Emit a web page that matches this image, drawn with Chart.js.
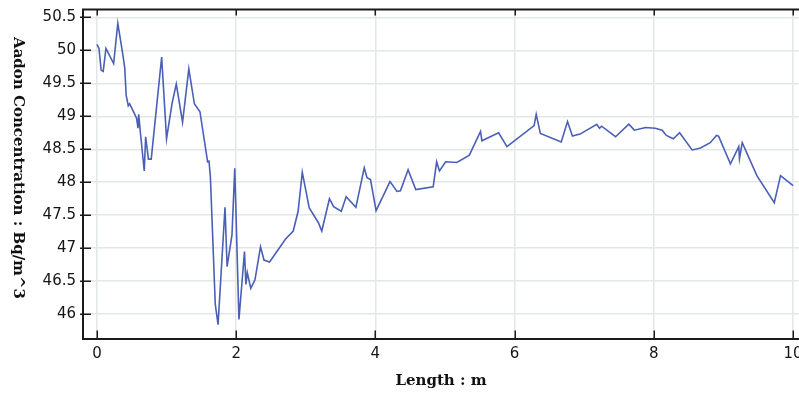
<!DOCTYPE html>
<html>
<head>
<meta charset="utf-8">
<script src="https://cdn.jsdelivr.net/npm/chart.js@4/dist/chart.umd.min.js"></script>
<style>
  html, body { margin: 0; padding: 0; background: #fff; width: 799px; height: 396px; overflow: hidden; }
  #wrap { position: relative; width: 807px; height: 396px; }
</style>
</head>
<body>
<div id="wrap"><canvas id="c"></canvas></div>
<script>
// Distance along the profile (m)
const lengthM = [
  0.00, 0.03, 0.06, 0.09, 0.13, 0.24, 0.30, 0.37, 0.40, 0.42,
  0.45, 0.47, 0.53, 0.57, 0.59, 0.60, 0.62, 0.68, 0.70, 0.74,
  0.78, 0.93, 1.00, 1.08, 1.14, 1.23, 1.32, 1.40, 1.48, 1.59,
  1.61, 1.63, 1.70, 1.74, 1.84, 1.87, 1.94, 1.98, 2.04, 2.12,
  2.14, 2.16, 2.21, 2.27, 2.35, 2.40, 2.48, 2.71, 2.82, 2.89,
  2.95, 3.05, 3.18, 3.23, 3.34, 3.40, 3.51, 3.58, 3.72, 3.84,
  3.88, 3.93, 4.01, 4.21, 4.31, 4.36, 4.47, 4.58, 4.83, 4.88,
  4.92, 5.01, 5.17, 5.35, 5.51, 5.53, 5.77, 5.89, 6.28, 6.31,
  6.37, 6.67, 6.76, 6.83, 6.94, 7.18, 7.22, 7.25, 7.45, 7.64,
  7.72, 7.88, 8.02, 8.12, 8.18, 8.28, 8.37, 8.55, 8.67, 8.81,
  8.90, 8.93, 9.10, 9.22, 9.23, 9.27, 9.48, 9.73, 9.82, 10.00
];

// Radon concentration (Bq/m^3)
const radon = [
  50.09, 50.03, 49.70, 49.68, 50.03, 49.80, 50.41, 49.95, 49.73, 49.32,
  49.16, 49.19, 49.06, 48.97, 48.82, 49.03, 48.80, 48.17, 48.69, 48.35,
  48.35, 49.90, 48.66, 49.20, 49.49, 48.91, 49.72, 49.19, 49.07, 48.31,
  48.32, 48.08, 46.15, 45.84, 47.62, 46.72, 47.20, 48.21, 45.92, 46.95,
  46.45, 46.63, 46.39, 46.52, 47.02, 46.82, 46.79, 47.14, 47.26, 47.56,
  48.15, 47.61, 47.39, 47.26, 47.75, 47.63, 47.56, 47.78, 47.62, 48.22,
  48.07, 48.04, 47.57, 48.01, 47.86, 47.87, 48.19, 47.89, 47.93, 48.31,
  48.17, 48.31, 48.30, 48.41, 48.77, 48.63, 48.75, 48.54, 48.86, 49.03,
  48.74, 48.61, 48.92, 48.70, 48.73, 48.88, 48.82, 48.85, 48.69, 48.88,
  48.79, 48.83, 48.82, 48.79, 48.71, 48.66, 48.75, 48.49, 48.52, 48.60,
  48.71, 48.70, 48.28, 48.54, 48.36, 48.60, 48.10, 47.69, 48.10, 47.95
];

const xTickValues = [0, 2, 4, 6, 8, 10];
const yTickValues = [46, 46.5, 47, 47.5, 48, 48.5, 49, 49.5, 50, 50.5];

const xTitle = 'Length : m';
const yTitle = 'Aadon Concentration : Bq/m^3';

const AXIS = '#1b1b1b';
const GRID = '#e4e7e8';
const LINE = '#4a5fb6';
const TITLE_FONT = 'bold 15px "DejaVu Serif"';

// Frame, inward tick marks and axis titles
const framePlugin = {
  id: 'frame',
  afterDraw(chart) {
    const { ctx, chartArea: a, scales } = chart;
    ctx.save();
    ctx.strokeStyle = AXIS;
    ctx.lineWidth = 2;
    ctx.beginPath();
    ctx.moveTo(a.left - 1, a.top);
    ctx.lineTo(a.right, a.top);
    ctx.stroke();

    ctx.lineWidth = 1.5;
    ctx.beginPath();
    xTickValues.forEach(v => {
      const px = Math.round(scales.x.getPixelForValue(v)) + 0.25;
      ctx.moveTo(px, a.bottom);
      ctx.lineTo(px, a.bottom - 8);
      ctx.moveTo(px, a.top);
      ctx.lineTo(px, a.top + 6);
    });
    yTickValues.forEach(v => {
      const py = Math.round(scales.y.getPixelForValue(v)) + 0.25;
      ctx.moveTo(a.left - 3, py);
      ctx.lineTo(a.left + 8, py);
    });
    ctx.stroke();

    ctx.fillStyle = '#111';
    ctx.font = TITLE_FONT;
    ctx.textAlign = 'center';
    ctx.textBaseline = 'middle';
    ctx.fillText(xTitle, 441, 381);

    ctx.translate(18, 168);
    ctx.rotate(Math.PI / 2);
    ctx.fillText(yTitle, 0, 0);
    ctx.restore();
  }
};

new Chart(document.getElementById('c'), {
  type: 'line',
  data: {
    datasets: [{
      data: lengthM.map((x, i) => ({ x, y: radon[i] })),
      borderColor: LINE,
      borderWidth: 1.6,
      pointRadius: 0,
      tension: 0,
      fill: false
    }]
  },
  options: {
    responsive: true,
    maintainAspectRatio: false,
    animation: false,
    layout: { padding: { top: 9.5, left: 0, right: 0, bottom: 0 } },
    plugins: { legend: { display: false }, tooltip: { enabled: false } },
    scales: {
      x: {
        type: 'linear',
        min: -0.2,
        max: 10.2,
        afterBuildTicks: s => { s.ticks = xTickValues.map(v => ({ value: v })); },
        afterFit: s => { s.height = 57.5; s.paddingLeft = 0; s.paddingRight = 0; },
        grid: { color: GRID, lineWidth: 1.5, drawTicks: false },
        border: { display: true, color: AXIS, width: 2 },
        ticks: {
          padding: 7, color: '#141414', maxRotation: 0, autoSkip: false,
          font: { family: 'DejaVu Sans', size: 15 },
          callback: v => String(v)
        }
      },
      y: {
        type: 'linear',
        min: 45.63,
        max: 50.62,
        afterBuildTicks: s => { s.ticks = yTickValues.map(v => ({ value: v })); },
        afterFit: s => { s.width = 83; s.paddingTop = 0; s.paddingBottom = 0; },
        grid: { color: GRID, lineWidth: 1.5, drawTicks: false },
        border: { display: true, color: AXIS, width: 2 },
        ticks: {
          padding: 7, color: '#141414', autoSkip: false,
          font: { family: 'DejaVu Sans', size: 15 },
          callback: v => String(v)
        }
      }
    }
  },
  plugins: [framePlugin]
});
</script>
</body>
</html>
